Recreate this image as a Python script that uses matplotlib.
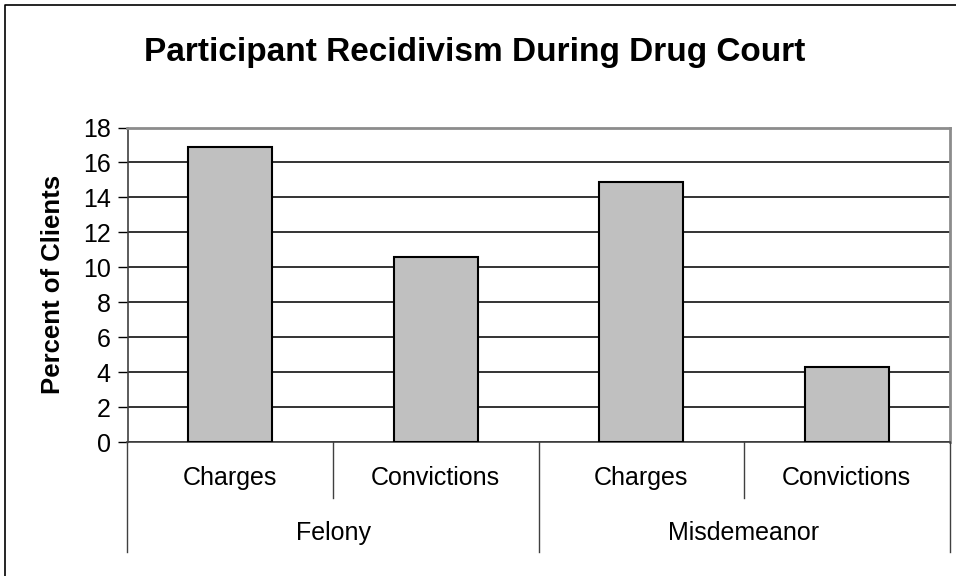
import matplotlib.pyplot as plt
from matplotlib.lines import Line2D
import matplotlib.transforms as mtransforms

plt.rcParams['font.family'] = ['Liberation Sans', 'DejaVu Sans']

# recidivism rates (percent of clients)
groups = ['Felony', 'Misdemeanor']
types = ['Charges', 'Convictions']
values = [16.9, 10.6, 14.9, 4.3]
yticks = [0, 2, 4, 6, 8, 10, 12, 14, 16, 18]

fig = plt.figure(figsize=(9.56, 5.76), dpi=100)
ax = fig.add_axes([127.5 / 956, 1 - 442 / 576, 822 / 956, 314.5 / 576])

x = list(range(len(values)))
ax.bar(x, values, width=0.41, color='#c0c0c0', edgecolor='black', linewidth=1.5, zorder=3)

ax.set_xlim(-0.5, len(values) - 0.5)
ax.set_ylim(0, 18)
ax.set_yticks(yticks)
ax.set_yticklabels([str(t) for t in yticks], fontsize=18)
ax.tick_params(axis='y', direction='out', length=7, width=1, pad=5)
ax.set_xticks([])
ax.yaxis.grid(True, color='#101010', linewidth=1.2, zorder=1)

for side in ['top', 'right']:
    ax.spines[side].set_color('#8c8c8c')
    ax.spines[side].set_linewidth(2)
ax.spines['left'].set_color('#404040')
ax.spines['bottom'].set_color('#404040')
ax.spines['left'].set_linewidth(1.2)
ax.spines['bottom'].set_linewidth(1.2)

ax.set_ylabel('Percent of Clients', fontsize=18.5, fontweight='bold', labelpad=13)

# two-level category axis below the bars
trans = mtransforms.blended_transform_factory(ax.transData, fig.transFigure)
inner_bottom = 1 - 498 / 576
outer_bottom = 1 - 552 / 576
axis_y = 1 - 442 / 576
for i, v in enumerate(values):
    ax.text(i, 1 - 478 / 576, types[i % len(types)], transform=trans,
            ha='center', va='center', fontsize=18)
for b in range(len(values) + 1):
    bottom = outer_bottom if b % len(types) == 0 else inner_bottom
    fig.add_artist(Line2D([b - 0.5, b - 0.5], [axis_y, bottom], transform=trans,
                          color='#404040', linewidth=1))
for g, name in enumerate(groups):
    center = g * len(types) + (len(types) - 1) / 2
    ax.text(center, 1 - 533 / 576, name, transform=trans,
            ha='center', va='center', fontsize=18)

fig.text(0.5 - 3 / 956, 1 - 53 / 576, 'Participant Recidivism During Drug Court',
         ha='center', va='center', fontsize=24, fontweight='bold')

# chart border (left and top edges)
fig.add_artist(Line2D([4.5 / 956, 4.5 / 956, 1], [0, 1 - 5 / 576, 1 - 5 / 576],
                      transform=fig.transFigure, color='black', linewidth=1.2))

fig.savefig('out.png', dpi=100)
